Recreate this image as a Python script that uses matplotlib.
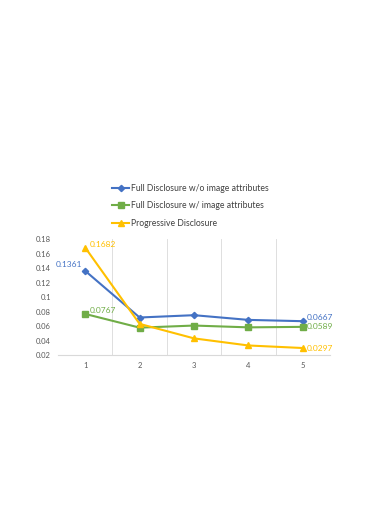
import matplotlib
matplotlib.use("Agg")
import matplotlib.pyplot as plt

plt.rcParams["font.family"] = ["Lato", "DejaVu Sans"]

categories = [1, 2, 3, 4, 5]
full_wo = [0.1361, 0.0718, 0.0750, 0.0685, 0.0667]
full_w = [0.0767, 0.0578, 0.0607, 0.0582, 0.0589]
progressive = [0.1682, 0.0630, 0.0430, 0.0332, 0.0297]
series_names = ["Full Disclosure w/o image attributes",
                "Full Disclosure w/ image attributes",
                "Progressive Disclosure"]
yticks = [0.02, 0.04, 0.06, 0.08, 0.1, 0.12, 0.14, 0.16, 0.18]
ytick_labels = ["0.02", "0.04", "0.06", "0.08", "0.1", "0.12", "0.14", "0.16", "0.18"]

colors = ["#4472C4", "#70AD47", "#FFC000"]
markers = ["D", "s", "^"]
msizes = [3.2, 4.0, 4.2]

fig = plt.figure(figsize=(3.72, 5.26), dpi=100)
ax = fig.add_axes([0.156, 0.325, 0.731, 0.2205])

series = [full_wo, full_w, progressive]
handles = []
for vals, c, m, ms, name in zip(series, colors, markers, msizes, series_names):
    h, = ax.plot(categories, vals, color=c, marker=m, markersize=ms, lw=1.5, label=name, zorder=3)
    handles.append(h)

ax.set_xlim(0.5, 5.5)
ax.set_ylim(0.02, 0.18)
ax.set_yticks(yticks)
ax.set_yticklabels(ytick_labels)
ax.set_xticks(categories)
ax.set_xticklabels([str(c) for c in categories])
for b in [1.5, 2.5, 3.5, 4.5, 5.5]:
    ax.axvline(b, color="#D9D9D9", lw=0.6, zorder=1)
for s in ["top", "right", "left"]:
    ax.spines[s].set_visible(False)
ax.spines["bottom"].set_color("#D9D9D9")
ax.spines["bottom"].set_linewidth(0.8)
ax.tick_params(axis="both", length=0, labelsize=5.5, labelcolor="#595959", pad=5)

fs = 6
# data labels
ax.annotate(f"{full_wo[0]:.4f}", (categories[0], full_wo[0]), xytext=(-2, 2), textcoords="offset points",
            ha="right", va="bottom", color=colors[0], fontsize=fs)
ax.annotate(f"{progressive[0]:.4f}", (categories[0], progressive[0]), xytext=(3, 0), textcoords="offset points",
            ha="left", va="bottom", color=colors[2], fontsize=fs)
ax.annotate(f"{full_w[0]:.4f}", (categories[0], full_w[0]), xytext=(3, 0), textcoords="offset points",
            ha="left", va="bottom", color=colors[1], fontsize=fs)
ax.annotate(f"{full_wo[-1]:.4f}", (categories[-1], full_wo[-1]), xytext=(3, 0), textcoords="offset points",
            ha="left", va="bottom", color=colors[0], fontsize=fs)
ax.annotate(f"{full_w[-1]:.4f}", (categories[-1], full_w[-1]), xytext=(3, 0), textcoords="offset points",
            ha="left", va="center", color=colors[1], fontsize=fs)
ax.annotate(f"{progressive[-1]:.4f}", (categories[-1], progressive[-1]), xytext=(3, 0), textcoords="offset points",
            ha="left", va="center", color=colors[2], fontsize=fs)

fig.legend(handles=handles, loc="upper left", bbox_to_anchor=(0.292, 0.657),
           frameon=False, fontsize=6.2, labelcolor="#404040", handlelength=2.0,
           handletextpad=0.25, labelspacing=1.0, borderaxespad=0)

fig.savefig("out.png", dpi=100)
